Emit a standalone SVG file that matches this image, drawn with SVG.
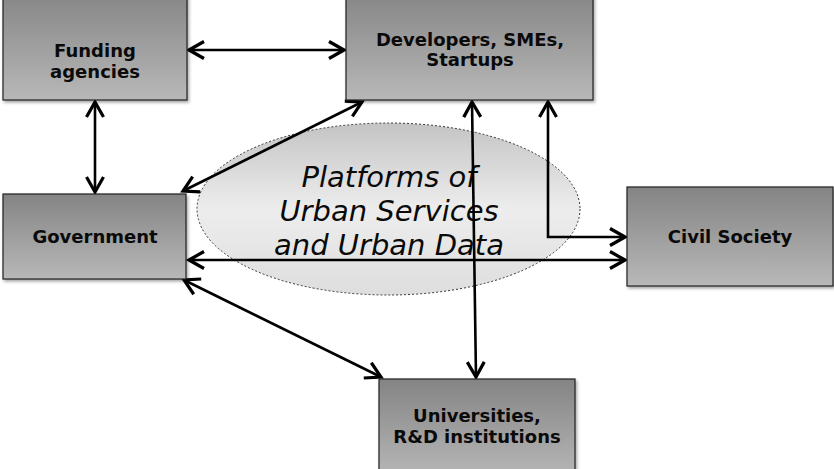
<svg xmlns="http://www.w3.org/2000/svg" width="834" height="469" viewBox="0 0 834 469">
<style>
.box{fill:url(#boxGrad);stroke:#222;stroke-width:1.2;filter:url(#shadow)}
.lbl{font-family:"DejaVu Sans","Verdana",sans-serif;font-weight:bold;font-size:18px;fill:#0a0a0a;text-anchor:middle}
.big{font-family:"DejaVu Sans","Verdana",sans-serif;font-style:italic;font-size:29px;fill:#0a0a0a;text-anchor:middle}
.con{fill:none;stroke:#000;stroke-width:2.6;marker-start:url(#arr);marker-end:url(#arr)}
</style>
<defs>
<linearGradient id="boxGrad" x1="0" y1="0" x2="0" y2="1">
<stop offset="0" stop-color="#848484"/>
<stop offset="1" stop-color="#b8b8b8"/>
</linearGradient>
<linearGradient id="ellGrad" x1="0" y1="0" x2="0" y2="1">
<stop offset="0" stop-color="#c4c4c4"/>
<stop offset="0.5" stop-color="#ededed"/>
<stop offset="1" stop-color="#dedede"/>
</linearGradient>
<filter id="shadow" x="-10%" y="-10%" width="120%" height="130%">
<feDropShadow dx="1.5" dy="2" stdDeviation="1.5" flood-color="#000" flood-opacity="0.35"/>
</filter>
<marker id="arr" markerUnits="userSpaceOnUse" markerWidth="20" markerHeight="22" viewBox="0 0 20 22" refX="17" refY="11" orient="auto-start-reverse">
<path d="M2,2.5 L17,11 L2,19.5" fill="none" stroke="#000" stroke-width="3.2" stroke-linejoin="miter"/>
</marker>
</defs>
<rect width="834" height="469" fill="#fff"/>
<g id="platforms">
<ellipse cx="388.5" cy="209" rx="191.5" ry="86" fill="url(#ellGrad)" stroke="#333" stroke-width="1" stroke-dasharray="2,2"/>
<text class="big" x="389" y="187">Platforms of</text>
<text class="big" x="389" y="221">Urban Services</text>
<text class="big" x="389" y="255">and Urban Data</text>
</g>
<g id="connectors">
<path class="con" d="M189,50 L344,50"/>
<path class="con" d="M95,102 L95,192"/>
<path class="con" d="M362,102 L183,191"/>
<path class="con" d="M472,102 L476,377"/>
<path class="con" d="M548,102 L548,237 L625,237"/>
<path class="con" d="M189,260 L625,260"/>
<path class="con" d="M184,280 L381,377"/>
</g>
<g id="funding">
<rect class="box" x="3" y="-10" width="184" height="110"/>
<text class="lbl" x="95" y="57">Funding</text>
<text class="lbl" x="95" y="78">agencies</text>
</g>
<g id="developers">
<rect class="box" x="346" y="-10" width="247" height="110"/>
<text class="lbl" x="470" y="46">Developers, SMEs,</text>
<text class="lbl" x="470" y="66">Startups</text>
</g>
<g id="government">
<rect class="box" x="3" y="194" width="183" height="85"/>
<text class="lbl" x="95" y="243">Government</text>
</g>
<g id="civil">
<rect class="box" x="627" y="187" width="206" height="99"/>
<text class="lbl" x="730" y="243">Civil Society</text>
</g>
<g id="universities">
<rect class="box" x="379" y="379" width="196" height="100"/>
<text class="lbl" x="477" y="422">Universities,</text>
<text class="lbl" x="477" y="443">R&amp;D institutions</text>
</g>
</svg>
